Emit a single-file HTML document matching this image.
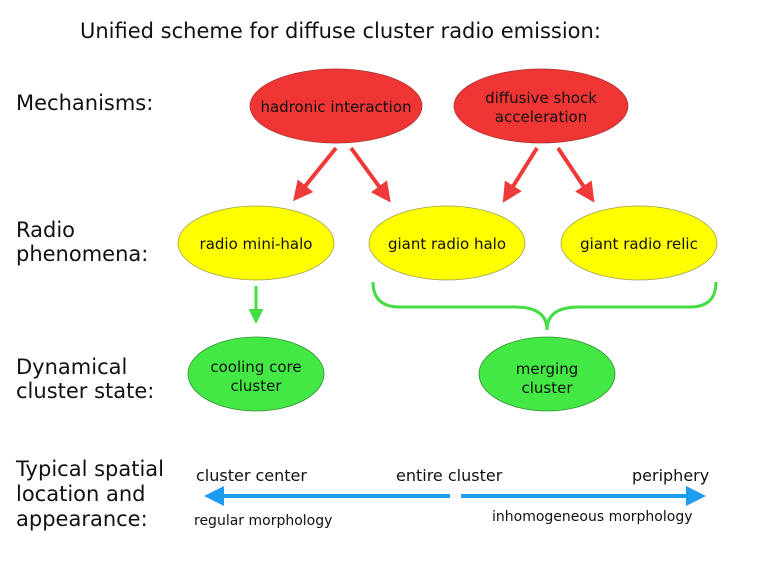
<!DOCTYPE html>
<html><head><style>
body{margin:0;background:#fff;}
svg{display:block;font-family:"DejaVu Sans","Liberation Sans",sans-serif;}
</style></head><body>
<svg width="771" height="578" viewBox="0 0 771 578">
<defs>
<marker id="r" markerWidth="5" markerHeight="5" refX="3" refY="2.5" orient="auto" markerUnits="strokeWidth"><path d="M0,0 L5,2.5 L0,5 z" fill="#f03a3a"/></marker>
<marker id="g" markerWidth="5" markerHeight="5" refX="3" refY="2.5" orient="auto" markerUnits="strokeWidth"><path d="M0,0 L5,2.5 L0,5 z" fill="#44dd44"/></marker>
<marker id="b" markerWidth="5" markerHeight="5" refX="3" refY="2.5" orient="auto" markerUnits="strokeWidth"><path d="M0,0 L5,2.5 L0,5 z" fill="#1e9cf0"/></marker>
</defs>
<text x="80" y="38" font-size="21" fill="#111">Unified scheme for diffuse cluster radio emission:</text>
<g font-size="21" fill="#111">
<text x="16" y="110">Mechanisms:</text>
<text x="16" y="237">Radio</text><text x="16" y="261">phenomena:</text>
<text x="16" y="374">Dynamical</text><text x="16" y="398">cluster state:</text>
<text x="16" y="476">Typical spatial</text><text x="16" y="501">location and</text><text x="16" y="526">appearance:</text>
</g>
<g stroke="#a0a050" stroke-width="0.8">
<ellipse cx="336" cy="106" rx="86" ry="37" fill="#f03535" stroke="#b03030"/>
<ellipse cx="541" cy="106" rx="87" ry="37" fill="#f03535" stroke="#b03030"/>
<ellipse cx="256" cy="243" rx="78" ry="37" fill="#ffff00"/>
<ellipse cx="447" cy="243" rx="78" ry="37" fill="#ffff00"/>
<ellipse cx="639" cy="243" rx="78" ry="37" fill="#ffff00"/>
<ellipse cx="256" cy="374" rx="68" ry="37" fill="#44e844" stroke="#309030"/>
<ellipse cx="547" cy="374" rx="68" ry="37" fill="#44e844" stroke="#309030"/>
</g>
<g font-size="15" fill="#111" text-anchor="middle">
<text x="336" y="112">hadronic interaction</text>
<text x="541" y="103">diffusive shock</text><text x="541" y="122">acceleration</text>
<text x="256" y="249">radio mini-halo</text>
<text x="447" y="249">giant radio halo</text>
<text x="639" y="249">giant radio relic</text>
<text x="256" y="372">cooling core</text><text x="256" y="391">cluster</text>
<text x="547" y="374">merging</text><text x="547" y="393">cluster</text>
</g>
<g stroke="#f03a3a" stroke-width="4" fill="none">
<line x1="336" y1="148" x2="298" y2="195" marker-end="url(#r)"/>
<line x1="351" y1="148" x2="386" y2="196" marker-end="url(#r)"/>
<line x1="537" y1="148" x2="507" y2="196" marker-end="url(#r)"/>
<line x1="558" y1="148" x2="590" y2="196" marker-end="url(#r)"/>
</g>
<line x1="256" y1="286" x2="256" y2="318" stroke="#44dd44" stroke-width="3" marker-end="url(#g)"/>
<path d="M373,282 Q373,307 400,307 L515,307 Q547,307 547,330 Q547,307 579,307 L690,307 Q716,307 716,282" stroke="#44dd44" stroke-width="3" fill="none"/>
<g font-size="16" fill="#111">
<text x="196" y="481">cluster center</text>
<text x="396" y="481">entire cluster</text>
<text x="632" y="481">periphery</text>
</g>
<g font-size="14" fill="#111">
<text x="194" y="525">regular morphology</text>
<text x="492" y="521">inhomogeneous morphology</text>
</g>
<line x1="450" y1="496" x2="212" y2="496" stroke="#1e9cf0" stroke-width="4" marker-end="url(#b)"/>
<line x1="461" y1="496" x2="698" y2="496" stroke="#1e9cf0" stroke-width="4" marker-end="url(#b)"/>
</svg>
</body></html>
